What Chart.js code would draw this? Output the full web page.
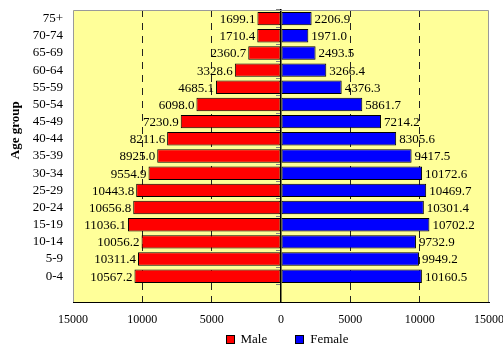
<!DOCTYPE html>
<html>
<head>
<meta charset="utf-8">
<script src="https://cdn.jsdelivr.net/npm/chart.js@4"></script>
<style>
  html, body { margin: 0; padding: 0; background: #fff; }
  #wrap { position: relative; width: 503px; height: 349px; }
  #legend { position: absolute; left: 79px; width: 416px; top: 331px; display: flex; justify-content: center; gap: 28px;
            font: 13px "Liberation Serif", "Times New Roman", serif; color: #000; }
  #legend .item { display: flex; align-items: center; gap: 6px; }
  #legend .box { width: 7px; height: 7px; border: 1px solid #000; }
</style>
</head>
<body>
<div id="wrap">
  <canvas id="c" width="503" height="349"></canvas>
  <div id="legend"></div>
</div>
<script>
// Age groups, oldest at the top
const ageGroups = ['75+', '70-74', '65-69', '60-64', '55-59', '50-54', '45-49', '40-44',
                   '35-39', '30-34', '25-29', '20-24', '15-19', '10-14', '5-9', '0-4'];
const maleValues = [1699.1, 1710.4, 2360.7, 3328.6, 4685.1, 6098.0, 7230.9, 8211.6,
                    8925.0, 9554.9, 10443.8, 10656.8, 11036.1, 10056.2, 10311.4, 10567.2];
const femaleValues = [2206.9, 1971.0, 2493.5, 3266.4, 4376.3, 5861.7, 7214.2, 8305.6,
                      9417.5, 10172.6, 10469.7, 10301.4, 10702.2, 9732.9, 9949.2, 10160.5];
const xTickValues = [-15000, -10000, -5000, 0, 5000, 10000, 15000];
const yAxisTitle = 'Age group';

const SERIF = '"Liberation Serif", "Times New Roman", serif';

// one empty slot below the youngest group leaves room above the x axis
const labels = ageGroups.concat(['']);

// yellow plot area with a grey frame
const plotFrame = {
  id: 'plotFrame',
  beforeDraw(chart) {
    const { ctx, chartArea: a } = chart;
    ctx.save();
    ctx.fillStyle = '#FFFF99';
    ctx.fillRect(a.left, a.top, a.right - a.left, a.bottom - a.top);
    ctx.restore();
  },
  beforeDatasetsDraw(chart) {
    const { ctx, chartArea: a } = chart;
    ctx.save();
    ctx.strokeStyle = '#9a9a9a';
    ctx.lineWidth = 1;
    ctx.beginPath();
    ctx.moveTo(Math.round(a.left) + 0.5, Math.round(a.bottom));
    ctx.lineTo(Math.round(a.left) + 0.5, Math.round(a.top) + 0.5);
    ctx.lineTo(Math.round(a.right) - 0.5, Math.round(a.top) + 0.5);
    ctx.lineTo(Math.round(a.right) - 0.5, Math.round(a.bottom));
    ctx.stroke();
    ctx.restore();
  },
  // rotated axis title, sitting a little above the middle of the axis
  afterDraw(chart) {
    const { ctx } = chart;
    const y = chart.scales.y.getPixelForValue(6.5);
    ctx.save();
    ctx.translate(16, y);
    ctx.rotate(-Math.PI / 2);
    ctx.font = 'bold 13px ' + SERIF;
    ctx.fillStyle = '#000';
    ctx.textAlign = 'center';
    ctx.textBaseline = 'middle';
    ctx.fillText(yAxisTitle, 0, 0);
    ctx.restore();
  }
};

// value labels at the outer end of each bar
const barValues = {
  id: 'barValues',
  afterDatasetsDraw(chart) {
    const { ctx } = chart;
    ctx.save();
    ctx.font = '13px ' + SERIF;
    ctx.fillStyle = '#000';
    ctx.textBaseline = 'middle';
    chart.data.datasets.forEach((ds, di) => {
      const meta = chart.getDatasetMeta(di);
      meta.data.forEach((bar, i) => {
        const v = ds.data[i];
        if (v === null || v === undefined) return;
        const txt = Math.abs(v).toFixed(1);
        if (v < 0) {
          ctx.textAlign = 'right';
          ctx.fillText(txt, bar.x - 2, bar.y + 1);
        } else {
          ctx.textAlign = 'left';
          ctx.fillText(txt, bar.x + 3, bar.y + 1);
        }
      });
    });
    ctx.restore();
  }
};

const chart = new Chart(document.getElementById('c'), {
  type: 'bar',
  data: {
    labels: labels,
    datasets: [
      {
        label: 'Male',
        data: maleValues.map(v => -v),
        backgroundColor: '#FF0000',
        borderColor: '#000000',
        borderWidth: 1,
        borderSkipped: false,
        barPercentage: 0.78,
        categoryPercentage: 1
      },
      {
        label: 'Female',
        data: femaleValues,
        backgroundColor: '#0000FF',
        borderColor: '#000000',
        borderWidth: 1,
        borderSkipped: false,
        barPercentage: 0.78,
        categoryPercentage: 1
      }
    ]
  },
  options: {
    indexAxis: 'y',
    responsive: false,
    animation: false,
    layout: { padding: { left: 0, right: 14, top: 10, bottom: 17 } },
    plugins: {
      legend: { display: false },
      tooltip: { enabled: false }
    },
    scales: {
      x: {
        type: 'linear',
        stacked: true,
        min: -15000,
        max: 15000,
        afterBuildTicks(scale) {
          scale.ticks = xTickValues.map(v => ({ value: v }));
        },
        afterFit(scale) {
          scale.height = 30;
          scale.paddingLeft = 0;
          scale.paddingRight = 0;
        },
        ticks: {
          padding: 11,
          color: '#000',
          font: { family: SERIF, size: 12 },
          callback: v => String(Math.abs(v))
        },
        grid: {
          drawTicks: false,
          lineWidth: 1,
          color: ctx => {
            const v = ctx.tick ? ctx.tick.value : null;
            if (v === 0 || Math.abs(v) === 15000) return 'rgba(0,0,0,0)';
            return '#222';
          }
        },
        border: {
          display: true,
          color: '#000',
          width: 1,
          dash: ctx => (ctx.tick ? [7, 6] : [])
        }
      },
      y: {
        type: 'category',
        stacked: true,
        afterFit(scale) {
          scale.width = 73;
          scale.paddingTop = 0;
          scale.paddingBottom = 0;
        },
        grid: { display: false, drawTicks: false },
        border: { display: false },
        ticks: {
          autoSkip: false,
          padding: 10,
          color: '#000',
          font: { family: SERIF, size: 13 }
        }
      },
      yCenter: {
        type: 'category',
        position: { x: 0 },
        afterFit(scale) {
          scale.paddingTop = 0;
          scale.paddingBottom = 0;
        },
        ticks: { display: false },
        grid: {
          drawOnChartArea: false,
          drawTicks: true,
          tickLength: 4,
          color: '#808080',
          offset: true
        },
        border: { display: true, color: '#000', width: 1.5 }
      }
    }
  },
  plugins: [plotFrame, barValues]
});

// legend built from the datasets
const legendEl = document.getElementById('legend');
chart.data.datasets.forEach(ds => {
  const item = document.createElement('div');
  item.className = 'item';
  const box = document.createElement('span');
  box.className = 'box';
  box.style.background = ds.backgroundColor;
  const txt = document.createElement('span');
  txt.textContent = ds.label;
  item.appendChild(box);
  item.appendChild(txt);
  legendEl.appendChild(item);
});
</script>
</body>
</html>
